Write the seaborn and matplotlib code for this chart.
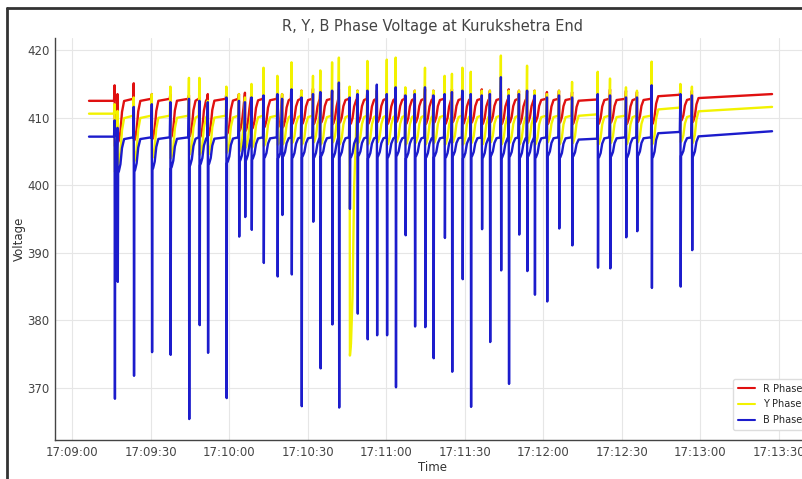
import pandas as pd
import matplotlib
matplotlib.use('Agg')
import matplotlib.pyplot as plt
import matplotlib.dates as mdates
import seaborn as sns
from matplotlib.lines import Line2D

# switching events, seconds after 17:09:00
spike_t = [16.4, 17.5, 23.7, 30.6, 37.7, 44.8, 48.8, 52.0, 59.1, 63.9,
           66.2, 68.7, 73.3, 78.6, 80.4, 84.0, 87.8, 92.2, 95.0, 99.5,
           102.1, 106.2, 109.2, 113.0, 116.6, 120.4, 123.8, 127.5, 131.1, 135.0,
           138.2, 142.5, 145.3, 149.3, 152.5, 156.7, 159.8, 164.0, 167.0, 170.9,
           174.0, 176.9, 181.6, 186.2, 191.2, 201.0, 205.7, 211.8, 216.0, 221.6,
           232.6, 237.0]

# B phase minimum at each event
b_min = [368.4, 385.7, 371.8, 375.3, 374.9, 365.4, 379.3, 375.2, 368.5, 392.4,
         395.3, 393.4, 388.5, 386.5, 395.6, 386.8, 367.3, 394.6, 372.9, 379.4,
         367.1, 396.5, 381.0, 377.2, 377.8, 377.8, 370.1, 392.6, 379.1, 379.0,
         374.4, 392.2, 372.4, 386.1, 367.2, 393.5, 376.8, 387.4, 370.6, 392.7,
         387.3, 383.8, 382.8, 393.6, 391.1, 387.8, 387.7, 392.3, 393.2, 384.8,
         385.0, 390.4]
# B phase level just after the dip
b_dot = [401.2, 401.8, 402.0, 402.3, 402.5, 402.8, 403.0, 403.0, 403.3, 403.5,
         403.6, 403.8, 404.0, 404.0, 404.2, 404.0, 404.2, 404.0, 404.3, 404.0,
         404.2, 404.0, 404.3, 404.0, 404.2, 404.0, 404.3, 404.0, 404.2, 404.0,
         404.2, 404.0, 404.3, 404.0, 404.2, 404.0, 404.3, 404.0, 404.2, 404.0,
         404.2, 404.0, 404.3, 404.0, 404.2, 404.0, 404.2, 404.0, 404.3, 404.0,
         404.4, 404.2]
b_peak = [409.6, 408.5, 411.6, 412.0, 412.3, 412.8, 412.5, 412.3, 413.0, 412.5,
          412.3, 413.0, 413.3, 413.5, 412.8, 414.2, 413.0, 413.5, 413.8, 414.0,
          415.2, 413.0, 413.5, 414.0, 414.9, 413.5, 414.5, 413.3, 413.5, 414.5,
          413.3, 413.5, 413.8, 414.0, 413.5, 413.3, 413.5, 416.0, 413.3, 413.5,
          414.0, 413.3, 413.0, 413.3, 413.0, 413.5, 413.3, 413.0, 413.0, 414.8,
          413.5, 413.3]

r_dip = [405.8, 406.3, 406.6, 406.8, 407.0, 407.2, 407.0, 407.3, 407.5, 408.0,
         408.0, 408.3, 408.5, 408.5, 408.5, 409.0, 409.0, 409.0, 409.2, 409.0,
         409.2, 409.0, 409.2, 409.0, 409.3, 409.0, 409.3, 409.0, 409.2, 409.0,
         409.2, 409.0, 409.3, 409.0, 409.2, 409.0, 409.3, 409.0, 409.2, 409.0,
         409.2, 409.3, 409.0, 409.2, 409.0, 409.0, 409.2, 409.0, 409.3, 409.0,
         409.5, 409.3]
r_peak = [414.8, 413.5, 415.1, 413.5, 413.5, 413.3, 413.0, 413.5, 413.7, 413.5,
          413.7, 413.5, 413.7, 414.0, 413.5, 415.5, 414.0, 414.3, 414.0, 414.0,
          414.2, 414.0, 414.0, 414.2, 414.0, 414.0, 414.3, 414.0, 414.0, 414.2,
          414.0, 414.0, 414.2, 414.0, 414.0, 414.2, 414.0, 414.0, 414.2, 414.0,
          414.0, 414.0, 413.8, 414.0, 413.8, 414.0, 414.2, 414.0, 413.8, 414.0,
          414.2, 414.0]

y_dip = [402.0, 403.0, 403.5, 404.0, 404.0, 404.5, 404.5, 404.5, 404.8, 405.0,
         405.5, 405.5, 405.8, 406.0, 406.0, 406.2, 406.0, 406.3, 406.0, 406.3,
         406.0, 374.8, 406.2, 406.0, 406.3, 406.0, 406.3, 406.0, 406.2, 406.0,
         406.2, 406.0, 406.3, 406.0, 406.2, 406.0, 406.3, 406.0, 406.2, 406.0,
         406.2, 406.0, 406.3, 406.0, 406.2, 406.0, 406.2, 406.0, 406.3, 406.0,
         406.4, 406.2]
y_peak = [412.0, 411.0, 413.0, 413.5, 414.6, 415.9, 415.9, 412.5, 414.6, 413.5,
          413.0, 415.0, 417.4, 416.2, 413.5, 418.2, 414.0, 416.2, 417.0, 418.2,
          418.9, 414.6, 414.0, 418.4, 414.0, 418.6, 418.9, 414.5, 414.0, 417.4,
          414.0, 416.2, 416.5, 417.4, 416.8, 414.0, 414.0, 419.2, 414.0, 414.0,
          417.7, 414.0, 413.5, 414.0, 415.3, 416.8, 415.8, 414.5, 414.0, 418.3,
          415.0, 414.6]

# steady levels
start_t, end_t = 6.5, 267.5
pre_level = {'R': 412.5, 'Y': 410.6, 'B': 407.2}
plateau = {'R': 412.8, 'Y': 410.3, 'B': 407.1}
hold_t = [191.2, 221.6, 237.0]
hold_r = [412.7, 413.4, 413.1]
hold_y = [410.5, 411.5, 411.2]
hold_b = [406.9, 407.9, 407.4]
end_level = {'R': 413.5, 'Y': 411.6, 'B': 408.0}

# recovery shape after each dip
rec_dt = [0.4, 1.0, 1.6, 2.4]
rec_frac = [0.05, 0.25, 0.7, 0.95]


def build(name, dip, peak, dot, holds):
    ts = [start_t, spike_t[0] - 0.35]
    vs = [pre_level[name], pre_level[name]]
    for i, t in enumerate(spike_t):
        ts += [t - 0.12, t]
        vs += [peak[i], dip[i]]
        lv = holds[hold_t.index(t)] if t in hold_t else plateau[name]
        last = i + 1 == len(spike_t)
        nxt = end_t if last else spike_t[i + 1]
        lo = dip[i]
        if dot is not None:
            lo = dot[i]
            ts.append(t + 0.12)
            vs.append(lo)
        for dt, fr in zip(rec_dt, rec_frac):
            if dt < nxt - t - 0.5:
                ts.append(t + dt)
                vs.append(lo + fr * (lv - lo))
        if not last and nxt - t > 2.0:
            ts.append(nxt - 0.35)
            vs.append(lv)
    ts.append(end_t)
    vs.append(end_level[name])
    return pd.DataFrame({'t': ts, 'Voltage': vs, 'Phase': name + ' Phase'})


df = pd.concat([
    build('R', r_dip, r_peak, None, hold_r),
    build('Y', y_dip, y_peak, None, hold_y),
    build('B', b_min, b_peak, b_dot, hold_b),
])
base = pd.Timestamp('2024-01-01 17:09:00')
df['Time'] = base + pd.to_timedelta(df['t'], unit='s')

sns.set_style('whitegrid')
plt.rcParams['font.family'] = ['DejaVu Sans']

fig = plt.figure(figsize=(8.03, 4.79), dpi=100)
ax = fig.add_axes([55 / 803, 39 / 479, 755 / 803, 402 / 479])

colors = {'R Phase': '#e01010', 'Y Phase': '#f2f200', 'B Phase': '#1c1ccc'}
sns.lineplot(data=df, x='Time', y='Voltage', hue='Phase', palette=colors,
             estimator=None, sort=False, linewidth=1.7, ax=ax, legend=False)

ax.set_xlim(base + pd.Timedelta(seconds=-6.5), base + pd.Timedelta(seconds=282))
ax.set_ylim(362.3, 421.8)
ax.set_yticks([370, 380, 390, 400, 410, 420])
ax.xaxis.set_major_locator(mdates.SecondLocator(bysecond=[0, 30]))
ax.xaxis.set_major_formatter(mdates.DateFormatter('%H:%M:%S'))

ax.grid(True, color='#e6e6e6', linewidth=0.8)
for s in ['top', 'right']:
    ax.spines[s].set_visible(False)
for s in ['left', 'bottom']:
    ax.spines[s].set_color('#444444')
    ax.spines[s].set_linewidth(1.0)
ax.tick_params(direction='in', length=4, width=0.8, colors='#444444',
               labelsize=8.5, pad=4)

ax.set_title('R, Y, B Phase Voltage at Kurukshetra End', fontsize=10.5,
             color='#444444', pad=5)
ax.set_xlabel('Time', fontsize=8.5, color='#333333', labelpad=2)
ax.set_ylabel('Voltage', fontsize=8.5, color='#333333', labelpad=1)

handles = [Line2D([], [], color=colors[k], linewidth=1.5) for k in colors]
ax.legend(handles, list(colors), loc='lower left', fontsize=7,
          bbox_to_anchor=(728 / 803, 44 / 479), bbox_transform=fig.transFigure,
          frameon=True, framealpha=1, edgecolor='#dddddd', handlelength=1.8,
          borderpad=0.5, labelspacing=0.6)

# screenshot border
fig.add_artist(Line2D([7 / 803, 7 / 803], [0, 1 - 8 / 479], color='#333333',
                      linewidth=2, transform=fig.transFigure))
fig.add_artist(Line2D([7 / 803, 1], [1 - 8 / 479, 1 - 8 / 479], color='#333333',
                      linewidth=2, transform=fig.transFigure))

fig.savefig('out.png', dpi=100)
